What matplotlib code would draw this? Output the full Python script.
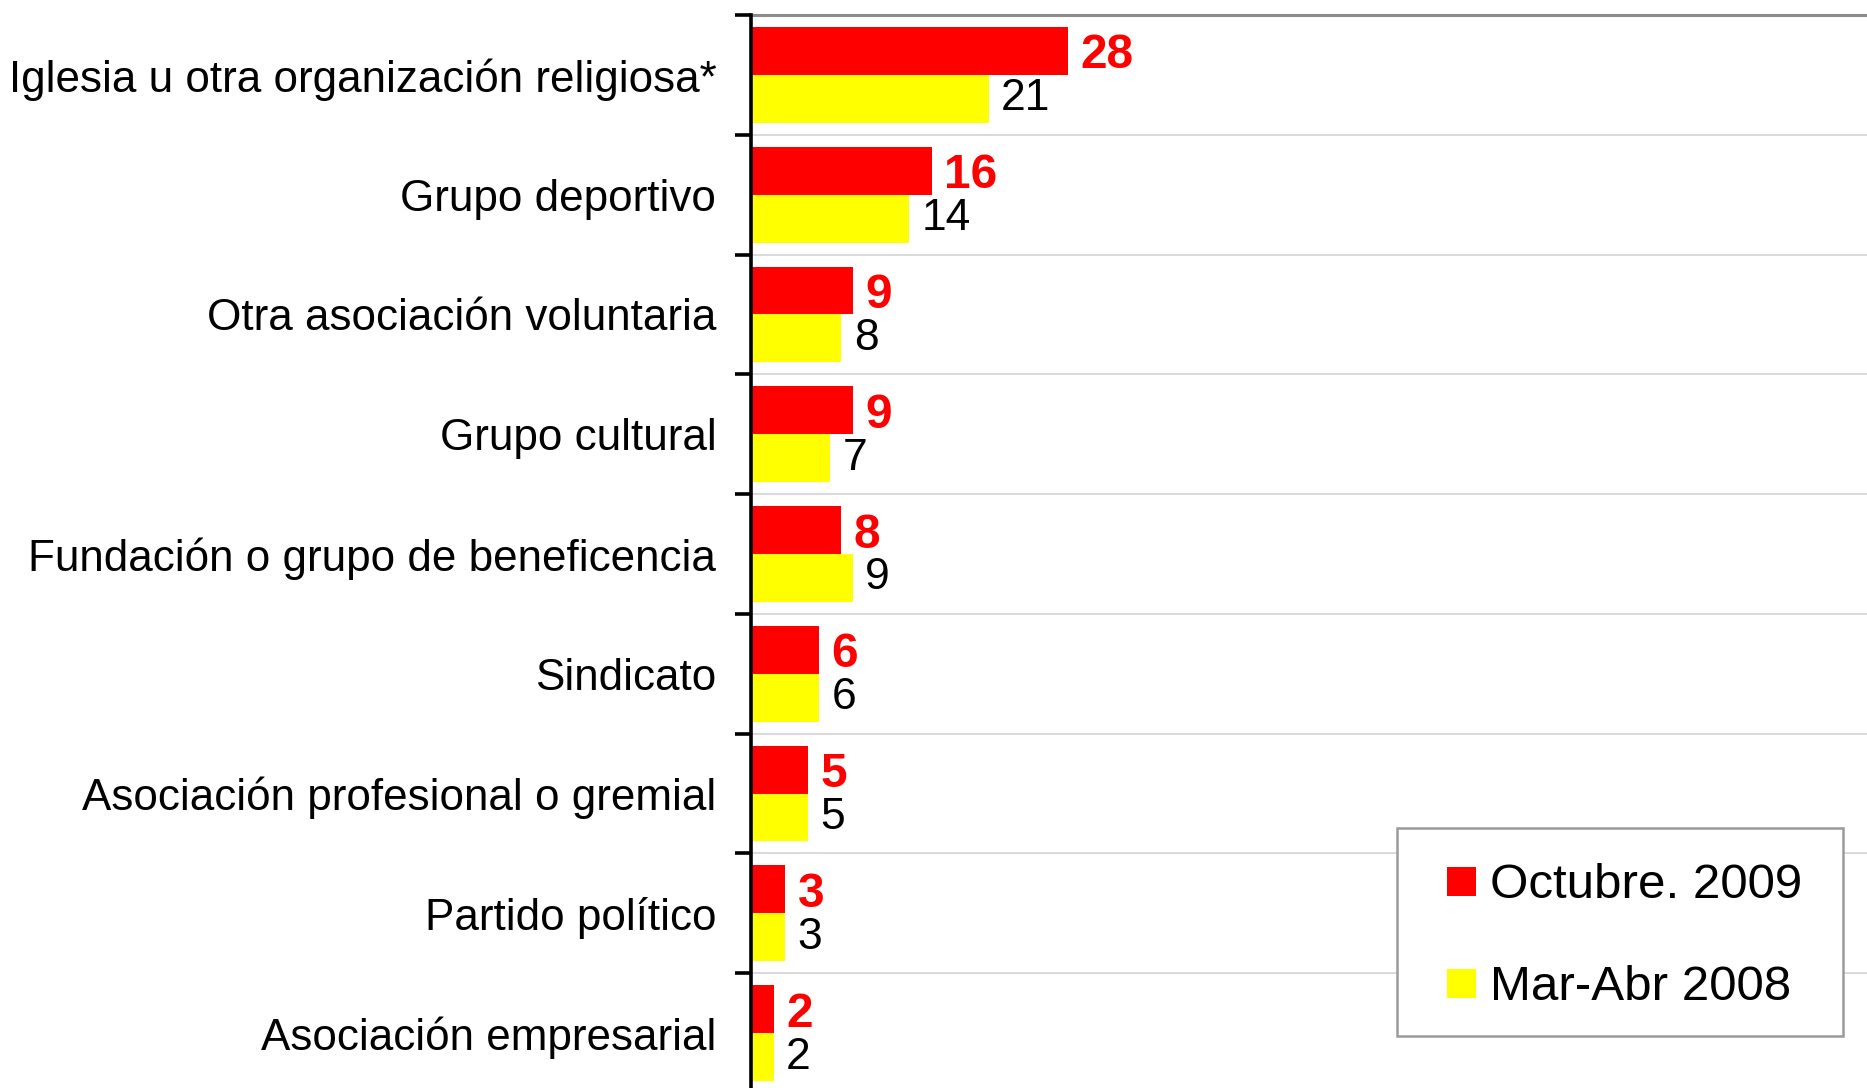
import matplotlib
matplotlib.use("Agg")
import matplotlib.pyplot as plt
from matplotlib.patches import Rectangle

# Membership in organisations (%), two survey waves
categories = [
    "Iglesia u otra organización religiosa*",
    "Grupo deportivo",
    "Otra asociación voluntaria",
    "Grupo cultural",
    "Fundación o grupo de beneficencia",
    "Sindicato",
    "Asociación profesional o gremial",
    "Partido político",
    "Asociación empresarial",
]
oct_2009 = [28, 16, 9, 9, 8, 6, 5, 3, 2]
mar_abr_2008 = [21, 14, 8, 7, 9, 6, 5, 3, 2]
series_names = ["Octubre. 2009", "Mar-Abr 2008"]
series_colors = ["#ff0000", "#ffff00"]

plt.rcParams["font.family"] = ["Liberation Sans", "DejaVu Sans"]

W, H, DPI = 1867, 1088, 100
fig = plt.figure(figsize=(W / DPI, H / DPI), dpi=DPI)
fig.patch.set_facecolor("white")

# axes placed in pixel terms: spine at x=751, top at y=15, categories ~120 px apart
left = 751 / W
top = 1 - 15 / H
bottom = 1 - 1093 / H
width = 1131 / W
ax = fig.add_axes([left, bottom, width, top - bottom])

n = len(categories)
ypos = list(range(n))
bh = 0.4
b1 = ax.barh([y - bh / 2 for y in ypos], oct_2009, height=bh,
             color=series_colors[0], edgecolor="none", zorder=3)
b2 = ax.barh([y + bh / 2 for y in ypos], mar_abr_2008, height=bh,
             color=series_colors[1], edgecolor="none", zorder=3)

red_labels = ax.bar_label(b1, padding=9, fontsize=34.5, color="#ff0000",
                          fontweight="bold")
for t in red_labels:
    t.set_va("center_baseline")
ax.bar_label(b2, padding=9, fontsize=32, color="black")

ax.set_xlim(0, 100)
ax.set_ylim(n - 0.5, -0.5)

# category labels at centres, tick marks at the boundaries
ax.set_yticks(ypos)
ax.set_yticklabels(categories, fontsize=31.7)
ax.tick_params(axis="y", which="major", length=0, pad=25)
ax.set_yticks([y - 0.5 for y in range(n + 1)], minor=True)
ax.tick_params(axis="y", which="minor", length=11.5, width=2.6,
               color="black", direction="out")
ax.set_xticks([])

ax.grid(axis="y", which="minor", color="#d9d9d9", linewidth=1.4, zorder=0)
ax.set_axisbelow(True)

for s in ("right", "bottom"):
    ax.spines[s].set_visible(False)
ax.spines["top"].set_color("#8c8c8c")
ax.spines["top"].set_linewidth(2.2)
ax.spines["left"].set_color("black")
ax.spines["left"].set_linewidth(2.6)
ax.spines["left"].set_zorder(4)

# legend box drawn in figure pixel coordinates
def fx(px):
    return px / W

def fy(py):
    return 1 - py / H

box = Rectangle((fx(1397), fy(1036)), fx(1843) - fx(1397), fy(828) - fy(1036),
                transform=fig.transFigure, facecolor="white",
                edgecolor="#9a9a9a", linewidth=1.8, zorder=10)
fig.add_artist(box)
for i, (name, col) in enumerate(zip(series_names, series_colors)):
    cy = 881 + i * 102
    sq = Rectangle((fx(1447), fy(cy + 14.5)), fx(29), 29 / H,
                   transform=fig.transFigure, facecolor=col,
                   edgecolor="none", zorder=11)
    fig.add_artist(sq)
    fig.text(fx(1490), fy(cy), name, fontsize=35.5, va="center_baseline",
             ha="left", zorder=12)

fig.savefig("out.png", dpi=DPI)
